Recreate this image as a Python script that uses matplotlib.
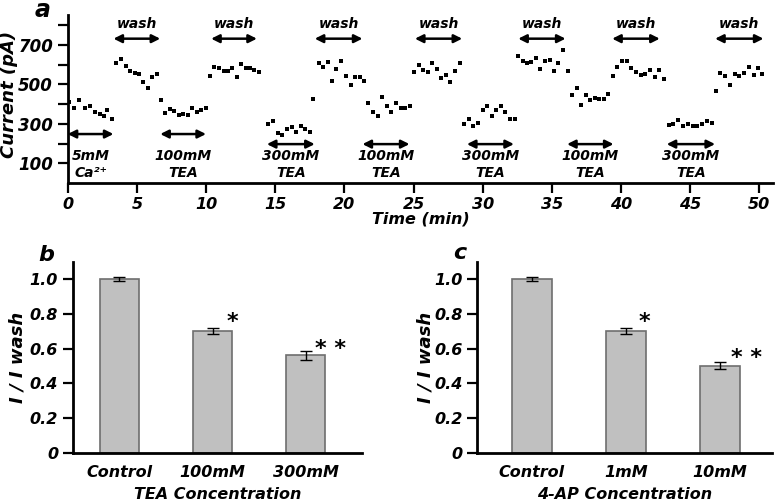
import numpy as np
import matplotlib
matplotlib.use("Agg")
import matplotlib.pyplot as plt

plt.rcParams['font.family'] = ['DejaVu Sans']
plt.rcParams['font.weight'] = 'bold'
plt.rcParams['font.style'] = 'italic'
plt.rcParams['axes.labelweight'] = 'bold'

# --- panel a: current recordings (min, pA), one list per segment
t_ca = [0.09, 0.44, 0.82, 1.24, 1.61, 1.98, 2.31, 2.63, 2.87, 3.24]
i_ca = [411, 382, 420, 382, 392, 358, 352, 338, 369, 323]
t_w1 = [3.47, 3.87, 4.18, 4.53, 4.85, 5.15, 5.44, 5.80, 6.08, 6.46]
i_w1 = [607, 627, 595, 569, 559, 552, 511, 479, 535, 552]
t_tea100a = [6.74, 7.04, 7.39, 7.69, 8.02, 8.37, 8.69, 9.02, 9.35, 9.67, 10.0]
i_tea100a = [420, 357, 377, 364, 345, 352, 342, 382, 362, 372, 382]
t_w2 = [10.28, 10.58, 10.93, 11.28, 11.59, 11.91, 12.24, 12.56, 12.91, 13.21, 13.49, 13.84]
i_w2 = [542, 586, 584, 569, 569, 584, 535, 601, 581, 581, 573, 564]
t_tea300a = [14.48, 14.81, 15.19, 15.48, 15.86, 16.19, 16.52, 16.86, 17.19, 17.5]
i_tea300a = [297, 314, 253, 243, 274, 284, 260, 287, 274, 260]
t_w3 = [17.76, 18.14, 18.48, 18.81, 19.1, 19.43, 19.76, 20.12, 20.45, 20.79, 21.1, 21.4]
i_w3 = [423, 610, 590, 613, 515, 579, 617, 542, 494, 539, 539, 515]
t_tea100b = [21.74, 22.07, 22.4, 22.74, 23.07, 23.38, 23.74, 24.07, 24.38, 24.71]
i_tea100b = [406, 359, 338, 437, 392, 362, 403, 379, 379, 389]
t_w4 = [25.05, 25.38, 25.71, 26.05, 26.36, 26.69, 27.0, 27.33, 27.67, 28.0, 28.33]
i_w4 = [564, 596, 573, 562, 607, 579, 532, 549, 511, 566, 607]
t_tea300b = [28.67, 29.0, 29.33, 29.67, 30.0, 30.33, 30.64, 30.98, 31.31, 31.64, 31.98, 32.31]
i_tea300b = [297, 326, 287, 304, 369, 389, 338, 372, 389, 358, 325, 325]
t_w5 = [32.57, 32.88, 33.18, 33.51, 33.84, 34.17, 34.5, 34.83, 35.17, 35.47, 35.83, 36.16]
i_w5 = [644, 617, 607, 613, 632, 576, 618, 624, 569, 607, 675, 567]
t_tea100c = [36.46, 36.79, 37.12, 37.45, 37.76, 38.09, 38.42, 38.75, 39.08]
i_tea100c = [447, 483, 396, 447, 420, 430, 423, 423, 450]
t_w6 = [39.39, 39.72, 40.05, 40.4, 40.74, 41.07, 41.42, 41.76, 42.11, 42.45, 42.77, 43.12]
i_w6 = [542, 590, 617, 617, 583, 562, 549, 552, 573, 535, 571, 528]
t_tea300c = [43.44, 43.79, 44.13, 44.48, 44.83, 45.17, 45.52, 45.87, 46.21, 46.56]
i_tea300c = [296, 301, 318, 287, 301, 291, 291, 301, 314, 304]
t_w7 = [46.83, 47.17, 47.51, 47.88, 48.22, 48.56, 48.9, 49.24, 49.59, 49.93, 50.2]
i_w7 = [466, 559, 542, 494, 550, 542, 559, 590, 547, 584, 552]

# application periods (start, end, label)
wash_periods = [(3.31, 6.69), (10.37, 13.68), (17.86, 21.31), (25.1, 28.52),
                (32.57, 35.99), (39.36, 42.8), (46.8, 50.3)]
drug_periods = [(0.0, 3.31, "5mM\nCa²⁺"), (6.69, 10.0, "100mM\nTEA"),
                (14.4, 17.86, "300mM\nTEA"), (21.31, 24.71, "100mM\nTEA"),
                (28.86, 32.26, "300mM\nTEA"), (36.1, 39.46, "100mM\nTEA"),
                (43.3, 46.8, "300mM\nTEA")]

# --- panels b and c
tea_labels = ["Control", "100mM", "300mM"]
tea_vals = [1.0, 0.70, 0.56]
tea_err = [0.012, 0.018, 0.024]
tea_stars = ["", "*", "* *"]
ap_labels = ["Control", "1mM", "10mM"]
ap_vals = [1.0, 0.70, 0.50]
ap_err = [0.012, 0.018, 0.02]
ap_stars = ["", "*", "* *"]

fig = plt.figure(figsize=(7.77, 5.01), dpi=100)

# ---------------- panel a
ax = fig.add_axes([0.0871, 0.6347, 0.908, 0.335])
segs = [(t_ca, i_ca), (t_w1, i_w1), (t_tea100a, i_tea100a), (t_w2, i_w2),
        (t_tea300a, i_tea300a), (t_w3, i_w3), (t_tea100b, i_tea100b), (t_w4, i_w4),
        (t_tea300b, i_tea300b), (t_w5, i_w5), (t_tea100c, i_tea100c), (t_w6, i_w6),
        (t_tea300c, i_tea300c), (t_w7, i_w7)]
for t, i in segs:
    ax.plot(t, i, 's', color='k', markersize=2.2, markeredgewidth=0)

arrow_kw = dict(arrowstyle='<|-|>', color='k', lw=1.8, mutation_scale=12,
                shrinkA=0, shrinkB=0)
for s, e in wash_periods:
    ax.annotate('', xy=(s, 731), xytext=(e, 731), arrowprops=arrow_kw)
    ax.text((s + e) / 2, 803, 'wash', ha='center', va='center', fontsize=10)
for k, (s, e, lab) in enumerate(drug_periods):
    y_arr = 248 if k < 2 else 197
    ax.annotate('', xy=(s, y_arr), xytext=(e, y_arr), arrowprops=arrow_kw)
    ax.text((s + e) / 2, 93, lab, ha='center', va='center', fontsize=10,
            linespacing=1.3)

ax.set_xlim(0, 51)
ax.set_ylim(0, 850)
ax.set_xticks(np.arange(0, 51, 5))
ax.set_yticks([100, 300, 500, 700])
ax.set_yticks([200, 400, 600, 800], minor=True)
ax.tick_params(which='both', direction='out', width=1.6, length=7)
ax.tick_params(axis='y', labelsize=12)
ax.tick_params(axis='x', labelsize=11.5, pad=3)
ax.spines['top'].set_visible(False)
ax.spines['right'].set_visible(False)
ax.spines['left'].set_linewidth(2)
ax.spines['bottom'].set_linewidth(2)
ax.set_xlabel('Time (min)', fontsize=11.5, labelpad=0)
ax.set_ylabel('Current (pA)', fontsize=13)
ax.yaxis.set_label_coords(-0.07, 0.53)
ax.text(-0.036, 0.99, 'a', transform=ax.transAxes, fontsize=17, ha='center', va='baseline')


def bar_panel(rect, labels, vals, errs, stars, xlab, xlim, star_pos, ylab_x):
    bx = fig.add_axes(rect)
    x = np.arange(len(labels))
    bx.bar(x, vals, width=0.42, color='#c0c0c0', edgecolor='#6e6e6e', linewidth=1.2,
           yerr=errs, error_kw=dict(ecolor='k', elinewidth=1, capsize=4, capthick=1))
    for st, (sx, sy) in zip(stars, star_pos):
        if st:
            bx.text(sx, sy, st, ha='center', va='center', fontsize=16,
                    fontstyle='normal')
    bx.set_xlim(*xlim)
    bx.set_ylim(0, 1.1)
    bx.set_xticks(x)
    bx.set_xticklabels(labels)
    bx.set_yticks([0, 0.2, 0.4, 0.6, 0.8, 1.0])
    bx.set_yticklabels(['0', '0.2', '0.4', '0.6', '0.8', '1.0'])
    bx.tick_params(axis='y', direction='out', width=1.6, length=7, labelsize=11.5)
    bx.tick_params(axis='x', length=0, labelsize=11.5, pad=9)
    bx.spines['top'].set_visible(False)
    bx.spines['right'].set_visible(False)
    bx.spines['left'].set_linewidth(2)
    bx.spines['bottom'].set_linewidth(2)
    bx.set_xlabel(xlab, fontsize=11.5, labelpad=5)
    bx.set_ylabel('I / I wash', fontsize=13)
    bx.yaxis.set_label_coords(ylab_x, 0.5)
    return bx


bx = bar_panel([0.0936, 0.0964, 0.372, 0.3812], tea_labels, tea_vals, tea_err, tea_stars,
               'TEA Concentration', (-0.5, 2.6),
               [(0, 0), (1.21, 0.75), (2.26, 0.595)], -0.16)
bx.text(-0.092, 1.035, 'b', transform=bx.transAxes, fontsize=16, ha='center', va='center')
cx = bar_panel([0.6143, 0.0964, 0.379, 0.3812], ap_labels, ap_vals, ap_err, ap_stars,
               '4-AP Concentration', (-0.58, 2.55),
               [(0, 0), (1.2, 0.75), (2.285, 0.545)], -0.145)
cx.text(-0.059, 1.045, 'c', transform=cx.transAxes, fontsize=16, ha='center', va='center')

fig.savefig('out.png', dpi=100)
